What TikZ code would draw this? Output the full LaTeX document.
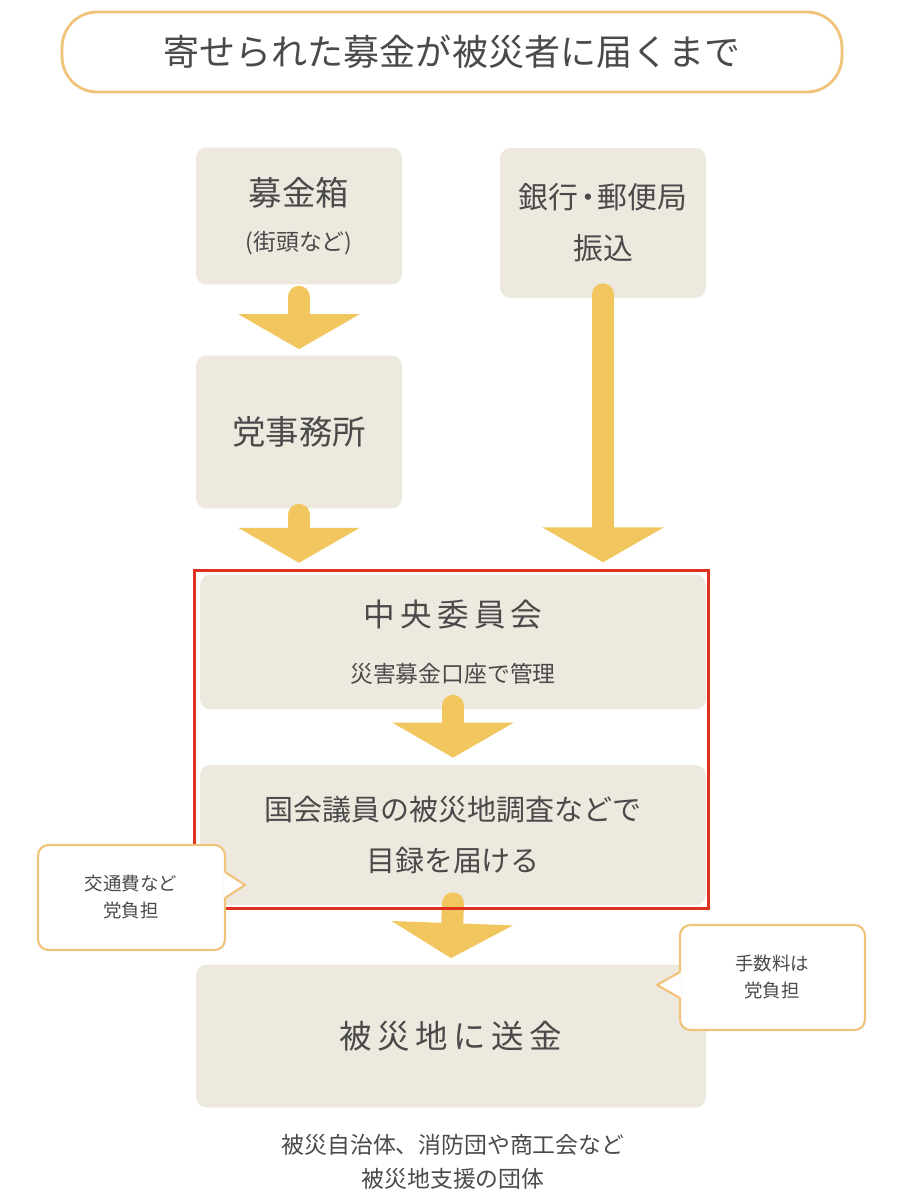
\documentclass[tikz,border=0pt]{standalone}
\usepackage{fontspec}
\setmainfont{Noto Sans CJK JP}
\usetikzlibrary{positioning,calc,arrows.meta}
\definecolor{boxfill}{HTML}{EEE9DF}
\definecolor{arrowyel}{HTML}{F2C65E}
\definecolor{frameor}{HTML}{F0C27A}
\definecolor{txtgray}{HTML}{4A4A4A}
\definecolor{framered}{HTML}{E0301E}
\begin{document}
\begin{tikzpicture}[
    x=0.02cm, y=-0.02cm,
    box/.style={draw=none, fill=boxfill, rounded corners=6pt, text=txtgray, align=center, inner sep=0pt},
    flow/.style={draw=arrowyel, line width=0.44cm, line cap=round, -{Triangle[width=2.4cm, length=0.7cm]}},
    callout/.style={draw=frameor, fill=white, line width=1.2pt},
    note/.style={text=txtgray, align=center, font=\fontsize{10.5}{15}\selectfont}
]
\useasboundingbox (0,0) rectangle (904,1200);

% Title
\node[draw=frameor, line width=1.6pt, rounded corners=20pt, minimum width=15.6cm, minimum height=1.6cm,
      text=txtgray, font=\fontsize{20.5}{24}\selectfont] (title) at (452,52) {寄せられた募金が被災者に届くまで};

% Boxes
\node[box, minimum width=4.12cm, minimum height=2.74cm, font=\fontsize{19}{24}\selectfont] (box) at (299,216)
    {募金箱\\[2pt]{\fontsize{13}{16}\selectfont (街頭など)}};
\node[box, minimum width=4.12cm, minimum height=3.0cm, font=\fontsize{17}{29}\selectfont] (bank) at (603,223)
    {銀行{\kern-3pt}・{\kern-3pt}郵便局\\振込};
\node[box, minimum width=4.12cm, minimum height=3.06cm, font=\fontsize{19}{22}\selectfont] (office) at (299,432)
    {党事務所};
\node[box, minimum width=10.12cm, minimum height=2.7cm, font=\fontsize{18}{24}\selectfont] (central) at (453,642)
    {中\,央\,委\,員\,会\\[8pt]{\fontsize{13}{16}\selectfont 災害募金口座で管理}};
\node[box, minimum width=10.12cm, minimum height=2.8cm, font=\fontsize{16.5}{29}\selectfont] (visit) at (453,835)
    {国会議員の被災地調査などで\\目録を届ける};
\node[box, minimum width=10.2cm, minimum height=2.86cm, font=\fontsize{18.5}{22}\selectfont] (send) at (451,1036)
    {被\,災\,地\,に\,送\,金};

% Bottom text
\node[text=txtgray, align=center, font=\fontsize{13}{19}\selectfont] (dest) at (453,1162)
    {被災自治体、消防団や商工会など\\被災地支援の団体};

% Arrows
\draw[flow] ($(box.south)+(0,12)$) -- ($(office.north)+(0,-6)$);
\draw[flow] ($(office.south)+(0,6)$) -- ($(office.south)+(0,54)$);
\draw[flow] ($(bank.south)+(0,-4)$) -- ($(bank.south)+(0,264)$);
\draw[flow] ($(central.south)+(0,-4)$) -- ($(visit.north)+(0,-7)$);
\draw[flow] ($(visit.south)+(0,-2)$) -- ($(send.north)+(0,-6)$);

% Red frame
\draw[framered, line width=1.8pt] ($(central.north west)+(-5,-4)$) rectangle ($(visit.south east)+(2,3)$);

% Callouts
\draw[callout, rounded corners=6pt] (38,845) rectangle (225,950);
\fill[white] (224,872) -- (245,885) -- (224,898) -- cycle;
\draw[frameor, line width=1.2pt, line join=round] (225,872) -- (245,885) -- (225,898);
\node[note] (fare) at (131,897) {交通費など\\党負担};
\draw[callout, rounded corners=6pt] (680,925) rectangle (865,1030);
\fill[white] (681,972) -- (657,985) -- (681,998) -- cycle;
\draw[frameor, line width=1.2pt, line join=round] (680,972) -- (657,985) -- (680,998);
\node[note] (fee) at (772,977) {手数料は\\党負担};
\end{tikzpicture}
\end{document}
